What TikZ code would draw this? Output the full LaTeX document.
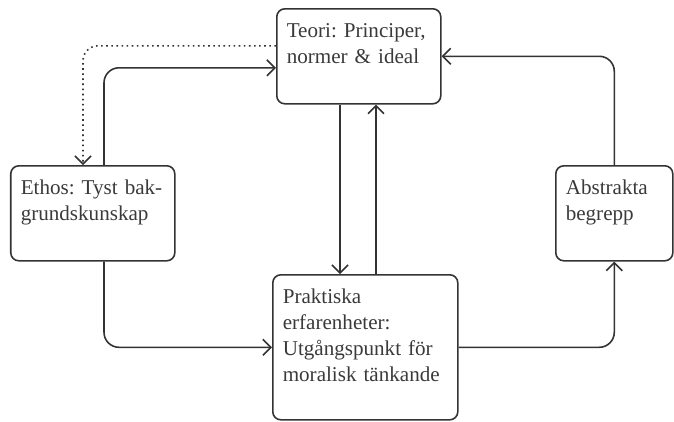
\documentclass[tikz,border=0pt]{standalone}
\usepackage{fontspec}
\setmainfont{Liberation Serif}
\usetikzlibrary{arrows.meta}
\definecolor{linegray}{HTML}{333333}
\definecolor{textgray}{HTML}{3A3A3A}
\newcommand{\boxfont}{\fontsize{12}{14.8}\selectfont\frenchspacing}
\tikzset{
	box/.style={draw=linegray, line width=0.9pt, rounded corners=0.16cm, anchor=north west,
		align=left, inner xsep=0.2cm, inner ysep=0.2cm, text height=0.38cm, font=\boxfont, text=textgray},
	flow/.style={-{Straight Barb[length=1.6mm,width=3.2mm]}, draw=linegray, line width=0.9pt, rounded corners=0.3cm}
}
\begin{document}
\begin{tikzpicture}
\useasboundingbox (0,0) rectangle (13.48,-8.42);
\node[box, text width=2.88cm, text depth=1.12cm] (teori) at (5.52,-0.16) {Teori: Principer,\\normer \& ideal};
\node[box, text width=2.88cm, text depth=1.12cm] (ethos) at (0.2,-3.3) {Ethos: Tyst bak-\\grundskunskap};
\node[box, text width=3.3cm, text depth=2.12cm] (prak) at (5.44,-5.48) {Praktiska\\erfarenheter:\\Utgångspunkt för\\moralisk tänkande};
\node[box, text width=1.94cm, text depth=1.12cm] (abstr) at (11.1,-3.3) {Abstrakta\\begrepp};

\draw[flow, dotted] ([yshift=0.21cm]teori.west) -| ([xshift=1.46cm]ethos.north west);
\draw[flow] ([xshift=1.88cm]ethos.north west) |- ([yshift=-0.23cm]teori.west);
\draw[flow] ([xshift=1.88cm]ethos.south west) |- (prak.west);
\draw[flow] ([xshift=1.28cm]teori.south west) -- ([xshift=1.28cm]teori.south west |- prak.north);
\draw[flow] ([xshift=2cm]teori.south west |- prak.north) -- ([xshift=2cm]teori.south west);
\draw[flow] (prak.east) -| (abstr.south);
\draw[flow] (abstr.north) |- (teori.east);
\end{tikzpicture}
\end{document}
